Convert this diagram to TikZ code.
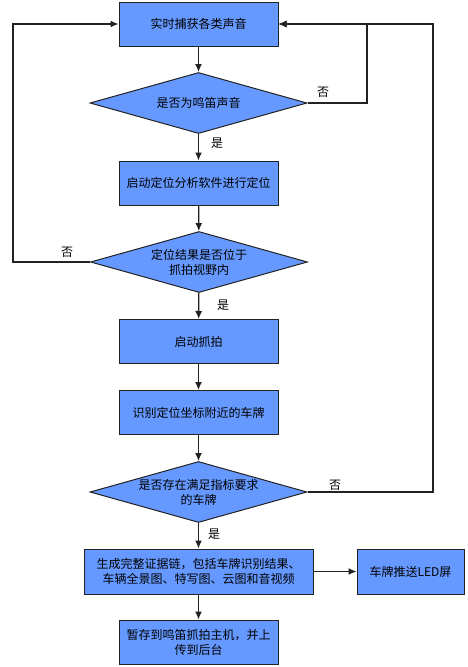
\documentclass[tikz,border=0pt]{standalone}
\usepackage{fontspec}
\setmainfont{Noto Sans CJK SC}
\usetikzlibrary{shapes.geometric,arrows.meta}
\definecolor{boxblue}{HTML}{6699FF}
\definecolor{linegray}{HTML}{222222}
\begin{document}
\begin{tikzpicture}[x=1pt,y=-1pt,
  stepbox/.style={rectangle, draw=linegray, line width=1pt, fill=boxblue, minimum width=159pt, minimum height=44pt, inner sep=0pt, align=center, font=\fontsize{12pt}{15pt}\selectfont},
  choice/.style={diamond, draw=linegray, line width=1pt, fill=boxblue, minimum width=217pt, minimum height=61pt, inner sep=0pt, shape aspect=3.56, align=center, font=\fontsize{12pt}{15pt}\selectfont},
  flow/.style={draw=linegray, line width=1.2pt, -{Latex[length=8pt,width=7pt]}},
  tag/.style={font=\fontsize{12pt}{15pt}\selectfont}]
\useasboundingbox (0,0) rectangle (467,667);
\node[stepbox] (sound) at (198.5,24){实时捕获各类声音};
\node[choice] (horn) at (198.5,103){是否为鸣笛声音};
\node[stepbox] (locate) at (198.5,183){启动定位分析软件进行定位};
\node[choice] (inview) at (199,262){定位结果是否位于\\抓拍视野内};
\node[stepbox] (shoot) at (198.5,341.5){启动抓拍};
\node[stepbox] (plate) at (198.5,412.5){识别定位坐标附近的车牌};
\node[choice] (valid) at (198.5,492){是否存在满足指标要求\\的车牌};
\node[stepbox, minimum width=229pt, minimum height=45pt] (chain) at (198.5,571.5){生成完整证据链，包括车牌识别结果、\\车辆全景图、特写图、云图和音视频};
\node[stepbox, minimum width=107pt, minimum height=45pt] (led) at (410.5,571.5){车牌推送LED屏};
\node[stepbox] (upload) at (198.5,642){暂存到鸣笛抓拍主机，并上\\传到后台};
\coordinate (back1) at (367,24);
\coordinate (back2) at (433,24);
\coordinate (back3) at (13,24);
\draw[flow](sound) -- (horn);
\draw[flow](horn) -- (locate);
\draw[flow](locate) -- (inview);
\draw[flow](inview) -- (shoot);
\draw[flow](shoot) -- (plate);
\draw[flow](plate) -- (valid);
\draw[flow](valid) -- (chain);
\draw[flow](chain) -- (led);
\draw[flow](chain) -- (upload);
\draw[flow](horn.east) -| (back1) -- (sound.east);
\draw[flow](valid.east) -| (back2) -- (sound.east);
\draw[flow](inview.west) -| (back3) -- (sound.west);
\node[tag] (no1) at (323,92){否};
\node[tag] (no2) at (67,252){否};
\node[tag] (no3) at (335,485){否};
\node[tag] (yes1) at (217,143){是};
\node[tag] (yes2) at (223,305){是};
\node[tag] (yes3) at (214,534){是};

\end{tikzpicture}
\end{document}
